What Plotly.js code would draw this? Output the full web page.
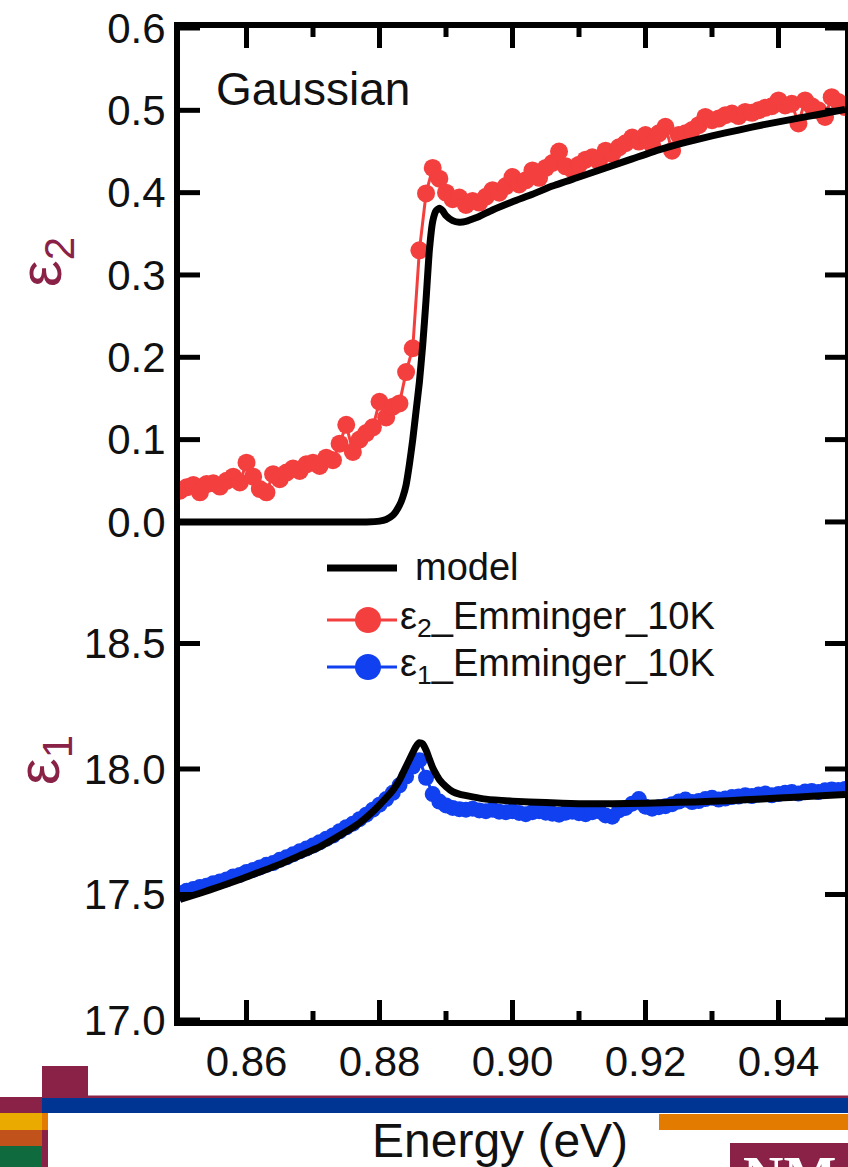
<!DOCTYPE html>
<html>
<head>
<meta charset="utf-8">
<script src="https://cdn.plot.ly/plotly-3.0.1.min.js"></script>
<style>
  html, body { margin: 0; padding: 0; background: #fff; }
  #chart { width: 848px; height: 1167px; }
</style>
</head>
<body>
<div id="chart"></div>
<script>
// Photon energy grid of the measured spectra (eV)
const dataEnergy = [
  0.850, 0.851, 0.852, 0.853, 0.854, 0.855, 0.856, 0.857, 0.858, 0.859,
  0.860, 0.861, 0.862, 0.863, 0.864, 0.865, 0.866, 0.867, 0.868, 0.869,
  0.870, 0.871, 0.872, 0.873, 0.874, 0.875, 0.876, 0.877, 0.878, 0.879,
  0.880, 0.881, 0.882, 0.883, 0.884, 0.885, 0.886, 0.887, 0.888, 0.889,
  0.890, 0.891, 0.892, 0.893, 0.894, 0.895, 0.896, 0.897, 0.898, 0.899,
  0.900, 0.901, 0.902, 0.903, 0.904, 0.905, 0.906, 0.907, 0.908, 0.909,
  0.910, 0.911, 0.912, 0.913, 0.914, 0.915, 0.916, 0.917, 0.918, 0.919,
  0.920, 0.921, 0.922, 0.923, 0.924, 0.925, 0.926, 0.927, 0.928, 0.929,
  0.930, 0.931, 0.932, 0.933, 0.934, 0.935, 0.936, 0.937, 0.938, 0.939,
  0.940, 0.941, 0.942, 0.943, 0.944, 0.945, 0.946, 0.947, 0.948, 0.949,
  0.950
];

// ε2 (imaginary part), Emminger, 10 K
const eps2Data = [
  0.038, 0.042, 0.045, 0.036, 0.046, 0.047, 0.043, 0.050, 0.055, 0.048,
  0.072, 0.055, 0.040, 0.036, 0.058, 0.052, 0.060, 0.065, 0.062, 0.070,
  0.072, 0.068, 0.078, 0.075, 0.095, 0.118, 0.085, 0.100, 0.108, 0.115,
  0.146, 0.127, 0.140, 0.144, 0.182, 0.211, 0.330, 0.399, 0.430, 0.417,
  0.400, 0.392, 0.394, 0.385, 0.390, 0.388, 0.395, 0.403, 0.400, 0.408,
  0.419, 0.410, 0.415, 0.427, 0.418, 0.430, 0.436, 0.450, 0.432, 0.428,
  0.434, 0.440, 0.443, 0.438, 0.451, 0.447, 0.455, 0.460, 0.467, 0.462,
  0.470, 0.458, 0.472, 0.480, 0.451, 0.470, 0.472, 0.476, 0.482, 0.492,
  0.488, 0.490, 0.494, 0.496, 0.493, 0.498, 0.497, 0.500, 0.503, 0.505,
  0.512, 0.506, 0.508, 0.484, 0.512, 0.505, 0.500, 0.492, 0.516, 0.510,
  0.504
];

// ε1 (real part), Emminger, 10 K
const eps1Data = [
  17.505, 17.515, 17.522, 17.530, 17.535, 17.545, 17.552, 17.560, 17.572, 17.578,
  17.590, 17.598, 17.608, 17.618, 17.625, 17.638, 17.648, 17.660, 17.672, 17.683,
  17.695, 17.708, 17.722, 17.735, 17.752, 17.768, 17.782, 17.800, 17.818, 17.838,
  17.858, 17.880, 17.905, 17.935, 17.970, 18.010, 18.035, 17.965, 17.900, 17.870,
  17.855, 17.845, 17.840, 17.838, 17.842, 17.835, 17.832, 17.838, 17.830, 17.828,
  17.832, 17.825, 17.820, 17.828, 17.832, 17.826, 17.822, 17.818, 17.826, 17.830,
  17.824, 17.820, 17.828, 17.832, 17.815, 17.810, 17.835, 17.845, 17.862, 17.880,
  17.850, 17.842, 17.848, 17.852, 17.860, 17.870, 17.878, 17.868, 17.872, 17.880,
  17.885, 17.878, 17.882, 17.888, 17.890, 17.895, 17.892, 17.898, 17.902, 17.895,
  17.900, 17.905, 17.908, 17.902, 17.910, 17.912, 17.908, 17.915, 17.918, 17.916,
  17.920
];

// Gaussian model, ε2
const modelEnergyEps2 = [
  0.850, 0.860, 0.870, 0.878, 0.880, 0.881, 0.882, 0.883, 0.8835, 0.884,
  0.8845, 0.885, 0.8855, 0.886, 0.8865, 0.887, 0.8875, 0.888, 0.8885, 0.889,
  0.8895, 0.890, 0.891, 0.892, 0.893, 0.894, 0.895, 0.897, 0.900, 0.903,
  0.906, 0.910, 0.914, 0.918, 0.922, 0.926, 0.930, 0.934, 0.938, 0.942,
  0.946, 0.950
];
const modelEps2 = [
  0.000, 0.000, 0.000, 0.000, 0.001, 0.003, 0.008, 0.020, 0.030, 0.045,
  0.070, 0.100, 0.135, 0.170, 0.215, 0.270, 0.330, 0.365, 0.378, 0.381,
  0.378, 0.372, 0.366, 0.364, 0.365, 0.368, 0.371, 0.379, 0.389, 0.398,
  0.408, 0.419, 0.430, 0.441, 0.452, 0.461, 0.469, 0.476, 0.483, 0.489,
  0.495, 0.501
];

// Gaussian model, ε1
const modelEnergyEps1 = [
  0.850, 0.853, 0.856, 0.859, 0.862, 0.865, 0.868, 0.871, 0.874, 0.877,
  0.879, 0.881, 0.882, 0.883, 0.884, 0.885, 0.8855, 0.886, 0.8865, 0.887,
  0.8875, 0.888, 0.8885, 0.889, 0.890, 0.891, 0.892, 0.894, 0.896, 0.900,
  0.905, 0.910, 0.915, 0.920, 0.925, 0.930, 0.935, 0.940, 0.945, 0.950
];
const modelEps1 = [
  17.480, 17.505, 17.532, 17.560, 17.590, 17.620, 17.655, 17.690, 17.735, 17.785,
  17.830, 17.885, 17.915, 17.955, 18.010, 18.065, 18.090, 18.105, 18.100, 18.075,
  18.040, 18.005, 17.980, 17.958, 17.930, 17.910, 17.900, 17.889, 17.880, 17.872,
  17.866, 17.862, 17.862, 17.864, 17.867, 17.871, 17.877, 17.884, 17.891, 17.898
];

// tick positions
const energyTicks = [0.86, 0.88, 0.90, 0.92, 0.94];
const energyMinorTicks = [0.87, 0.89, 0.91, 0.93];
const eps2Ticks = [0, 0.1, 0.2, 0.3, 0.4, 0.5, 0.6];
const eps1Ticks = [17.0, 17.5, 18.0, 18.5];

// axis ranges (the two quantities share one frame)
const energyRange = [0.85, 0.95];
const eps2Range = [-0.605, 0.6];
const eps1Range = [17.0, 20.952];

// ---- styling ----
const FONT = 'Liberation Sans, Arial, sans-serif';
const RED = '#F43F3F';
const BLUE = '#1040F0';
const MAROON = '#8A2247';

// frame of the plotting area in page pixels
const L = 180, R = 845, T = 28, B = 1020;
const px = x => (x - L) / (R - L);
const py = y => (B - y) / (B - T);

// inward tick marks as line segments in axis units (20 px major, 9 px minor)
const span = r => r[1] - r[0];
const dxMajor = 20 * span(energyRange) / (R - L);
function yTickSegments(ticks, range) {
  const xs = [], ys = [];
  ticks.forEach(v => {
    xs.push(energyRange[0], energyRange[0] + dxMajor, null,
            energyRange[1] - dxMajor, energyRange[1], null);
    ys.push(v, v, null, v, v, null);
  });
  return { xs, ys };
}
function xTickSegments(ticks, lenPx, range) {
  const dy = lenPx * span(range) / (B - T);
  const xs = [], ys = [];
  ticks.forEach(v => {
    xs.push(v, v, null, v, v, null);
    ys.push(range[0], range[0] + dy, null, range[1] - dy, range[1], null);
  });
  return { xs, ys };
}
const tickSetsY1 = [
  yTickSegments(eps2Ticks, eps2Range),
  xTickSegments(energyTicks, 20, eps2Range),
  xTickSegments(energyMinorTicks, 9, eps2Range)
];
const tickSetY2 = yTickSegments(eps1Ticks, eps1Range);

const tickStyle = { color: '#000', width: 5 };

const traces = [
  {
    x: dataEnergy, y: eps2Data, yaxis: 'y', type: 'scatter', mode: 'lines+markers',
    name: 'ε2_Emminger_10K',
    line: { color: RED, width: 3 }, marker: { color: RED, size: 18 }
  },
  {
    x: modelEnergyEps2, y: modelEps2, yaxis: 'y', type: 'scatter', mode: 'lines',
    name: 'model', line: { color: '#000', width: 7, shape: 'spline', smoothing: 0.5 }
  },
  {
    x: [].concat(...tickSetsY1.map(s => s.xs)), y: [].concat(...tickSetsY1.map(s => s.ys)),
    yaxis: 'y', type: 'scatter', mode: 'lines', hoverinfo: 'skip',
    name: 'ticks', line: tickStyle
  },
  {
    x: dataEnergy, y: eps1Data, yaxis: 'y2', type: 'scatter', mode: 'lines+markers',
    name: 'ε1_Emminger_10K',
    line: { color: BLUE, width: 3 }, marker: { color: BLUE, size: 16 }
  },
  {
    x: modelEnergyEps1, y: modelEps1, yaxis: 'y2', type: 'scatter', mode: 'lines',
    name: 'model', line: { color: '#000', width: 7, shape: 'spline', smoothing: 0.5 }
  },
  {
    x: tickSetY2.xs, y: tickSetY2.ys, yaxis: 'y2', type: 'scatter', mode: 'lines',
    hoverinfo: 'skip', name: 'ticks', line: tickStyle
  }
];

const axisStyle = {
  showline: true, linewidth: 6, linecolor: '#000', mirror: true,
  ticks: '', showgrid: false, zeroline: false,
  tickfont: { family: FONT, size: 42, color: '#111' }
};

const shapes = [];
const annotations = [];

function rect(x0, y0, x1, y1, color) {
  shapes.push({
    type: 'rect', xref: 'paper', yref: 'paper',
    x0: px(x0), x1: px(x1), y0: py(y1), y1: py(y0),
    fillcolor: color, line: { width: 0 }, layer: 'above'
  });
}

// hand-placed legend
function legendLine(y, color, width) {
  shapes.push({
    type: 'line', xref: 'paper', yref: 'paper',
    x0: px(327), x1: px(397), y0: py(y), y1: py(y),
    line: { color: color, width: width }
  });
}
function legendDot(y, color) {
  shapes.push({
    type: 'circle', xref: 'paper', yref: 'paper',
    x0: px(355), x1: px(381), y0: py(y + 13), y1: py(y - 13),
    fillcolor: color, line: { width: 0 }
  });
}
function label(text, x, y, opts) {
  annotations.push(Object.assign({
    text: text, xref: 'paper', yref: 'paper', x: px(x), y: py(y),
    xanchor: 'left', yanchor: 'middle', showarrow: false,
    font: { family: FONT, size: 38, color: '#111' }
  }, opts || {}));
}

legendLine(568, '#000', 7);
label('model', 413, 567);
legendLine(620, RED, 3);
legendDot(620, RED);
label('ε<sub>2</sub>_Emminger_10K', 398, 619);
legendLine(667, BLUE, 3);
legendDot(667, BLUE);
label('ε<sub>1</sub>_Emminger_10K', 398, 666);

// panel note
label('Gaussian', 214, 89, { font: { family: FONT, size: 46, color: '#111' } });

// quantity labels for the two panels
label('ε<sub>2</sub>', 45, 262, { xanchor: 'center', textangle: -90,
  font: { family: FONT, size: 60, color: MAROON } });
label('ε<sub>1</sub>', 43, 760, { xanchor: 'center', textangle: -90,
  font: { family: FONT, size: 60, color: MAROON } });

// energy axis title
label('Energy (eV)', 500, 1140, { xanchor: 'center',
  font: { family: FONT, size: 48, color: '#111' } });

// footer bands
rect(42, 1066, 88, 1097, MAROON);
rect(42, 1095.5, 848, 1098.5, MAROON);
rect(42, 1098, 848, 1113, '#003594');
rect(0, 1097, 42, 1113, MAROON);
rect(0, 1113, 42, 1130, '#EAAA00');
rect(42, 1113, 48, 1130, '#E37B00');
rect(0, 1130, 42, 1146, '#C2521C');
rect(42, 1130, 48, 1167, MAROON);
rect(0, 1146, 42, 1167, '#0F6A3D');
rect(659, 1114, 848, 1130, '#E37B00');
rect(730, 1143, 848, 1167, MAROON);
label('<b>NM</b>', 789, 1144, { xanchor: 'center', yanchor: 'top',
  font: { family: 'Liberation Serif, serif', size: 56, color: '#fff' } });

const layout = {
  width: 848, height: 1167,
  margin: { l: L, r: 848 - R, t: T, b: 1167 - B, pad: 0 },
  paper_bgcolor: '#fff', plot_bgcolor: '#fff',
  showlegend: false,
  font: { family: FONT, color: '#111' },
  xaxis: Object.assign({}, axisStyle, {
    range: energyRange, tickvals: energyTicks, tickformat: '.2f'
  }),
  yaxis: Object.assign({}, axisStyle, {
    range: eps2Range, tickvals: eps2Ticks, tickformat: '.1f'
  }),
  yaxis2: Object.assign({}, axisStyle, {
    overlaying: 'y', side: 'left', anchor: 'x',
    range: eps1Range, tickvals: eps1Ticks, tickformat: '.1f'
  }),
  shapes: shapes,
  annotations: annotations
};

Plotly.newPlot('chart', traces, layout, { displayModeBar: false });
</script>
</body>
</html>
